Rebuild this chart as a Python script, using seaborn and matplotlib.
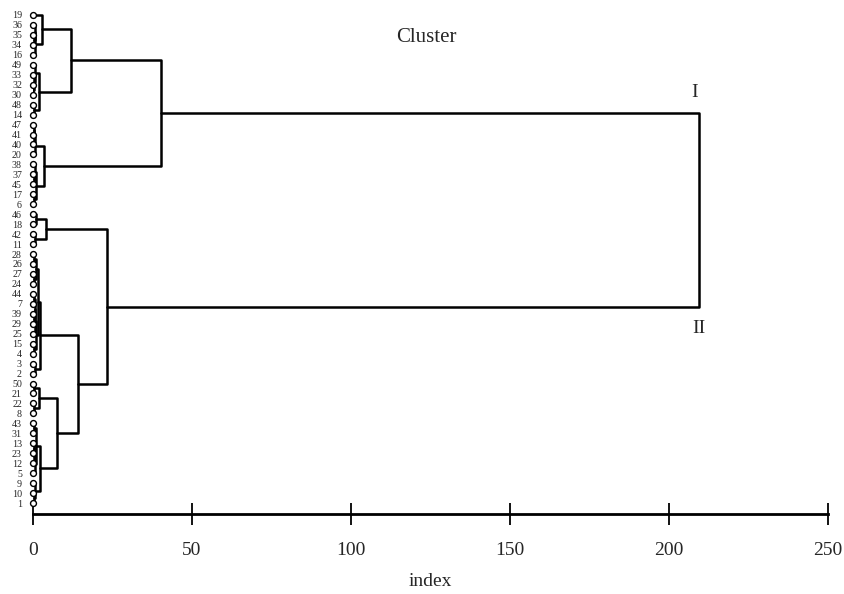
import numpy as np
import pandas as pd
import matplotlib
matplotlib.use("Agg")
import matplotlib.pyplot as plt
import seaborn as sns

# ---------------- data ----------------
leaf_order = [19, 36, 35, 34, 16, 49, 33, 32, 30, 48, 14, 47, 41, 40, 20, 38, 37, 45, 17, 6,
              46, 18, 42, 11, 28, 26, 27, 24, 44, 7, 39, 29, 25, 15, 4, 3, 2, 50, 21, 22,
              8, 43, 31, 13, 23, 12, 5, 9, 10, 1]

# merges: leaf labels are ints, earlier merges are "n<i>"
merge_left = [35, 36, "n1", 19, 32, 33, 49, 48, "n6", "n3",
              47, "n10", "n11", 37, 38, 17, "n14", "n12", "n9",
              46, 42, "n19",
              28, 27, "n22", 44, 39, "n25", "n27", 15, "n28", "n24", 3, "n31",
              50, 22, "n34", 43, 13, "n38", "n39", "n37", 10, 9, "n41", "n36", "n33", "n21", "n18"]
merge_right = [34, "n0", 16, "n2", 30, "n4", "n5", 14, "n7", "n8",
               41, 40, 20, 45, "n13", 6, "n15", "n16", "n17",
               18, 11, "n20",
               26, 24, "n23", 7, 29, "n26", 25, 4, "n29", "n30", 2, "n32",
               21, 8, "n35", 31, 23, 12, 5, "n40", 1, "n42", "n43", "n44", "n45", "n46", "n47"]
merge_height = [0.3, 0.5, 0.7, 2.8, 0.1, 0.3, 0.5, 0.4, 2.0, 12.0,
                0.2, 0.4, 0.6, 0.3, 0.5, 0.4, 0.8, 3.5, 40.4,
                0.85, 0.7, 4.1,
                0.3, 0.3, 0.8, 0.2, 0.2, 0.5, 0.7, 0.4, 1.0, 1.5, 0.5, 2.2,
                0.4, 0.4, 1.9, 0.3, 0.2, 0.4, 0.6, 0.9, 0.3, 0.5, 2.2, 7.6, 14.2, 23.2, 209.3]

x_ticks = [0, 50, 100, 150, 200, 250]
cluster_names = ["I", "II"]

# ---------------- tree geometry ----------------
pos = {leaf: i for i, leaf in enumerate(leaf_order)}
hgt = {leaf: 0.0 for leaf in leaf_order}
rows = []
for i, (l, r, h) in enumerate(zip(merge_left, merge_right, merge_height)):
    key = f"n{i}"
    pos[key] = (pos[l] + pos[r]) / 2
    hgt[key] = h
    for xx, yy in [(hgt[l], pos[l]), (h, pos[l]), (h, pos[r]), (hgt[r], pos[r])]:
        rows.append({"x": xx, "y": yy, "seg": i})
seg_df = pd.DataFrame(rows)
leaf_df = pd.DataFrame({"x": [hgt[k] for k in leaf_order], "y": [pos[k] for k in leaf_order]})

# ---------------- plot ----------------
sns.set_style("ticks")
plt.rcParams["font.family"] = ["Liberation Serif", "DejaVu Serif"]

fig = plt.figure(figsize=(8.44, 5.94), dpi=100)
ax = fig.add_axes([33 / 844, 80 / 594, 795 / 844, 504 / 594])

sns.lineplot(data=seg_df, x="x", y="y", units="seg", estimator=None, sort=False,
             color="black", lw=1.8, ax=ax, legend=False)
sns.scatterplot(data=leaf_df, x="x", y="y", marker="o", s=18, facecolor="white",
                edgecolor="black", linewidth=1.0, zorder=4, clip_on=False, ax=ax, legend=False)

ax.set_xlim(0, 250)
ax.set_ylim(50.1, -0.5)
ax.set_xticks(x_ticks)
ax.set_xticklabels([str(t) for t in x_ticks], fontsize=14)
ax.set_yticks(range(len(leaf_order)))
ax.set_yticklabels([str(k) for k in leaf_order], fontsize=7.2)
ax.tick_params(axis="y", length=0, pad=8)
ax.tick_params(axis="x", direction="inout", length=16, width=1.3, pad=12, color="black")
for s in ["left", "top", "right"]:
    ax.spines[s].set_visible(False)
ax.spines["bottom"].set_linewidth(2.0)
ax.spines["bottom"].set_color("black")
ax.set_ylabel("")
ax.set_xlabel("index", fontsize=14, labelpad=10)

root = f"n{len(merge_height) - 1}"
ax.annotate(cluster_names[0], (hgt[root], pos[merge_left[-1]]), xytext=(-3, 15),
            textcoords="offset points", ha="center", va="center", fontsize=14)
ax.annotate(cluster_names[1], (hgt[root], pos[merge_right[-1]]), xytext=(0, -16),
            textcoords="offset points", ha="center", va="center", fontsize=14)

fig.text(426 / 844, 1 - 38 / 594, "Cluster", ha="center", va="center", fontsize=15)

fig.savefig("out.png", dpi=100, facecolor="white")
